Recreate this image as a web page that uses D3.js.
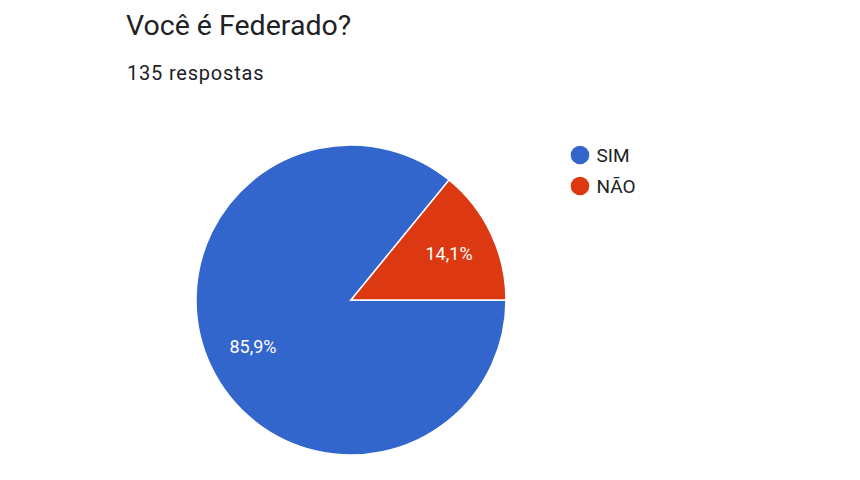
<!DOCTYPE html>
<html><head><meta charset="utf-8">
<script src="https://cdn.jsdelivr.net/npm/d3@7"></script>
<style>body{margin:0;background:#fff}svg{display:block}</style>
</head><body>
<svg id="c" width="860" height="480"></svg>
<script>
const title = "Você é Federado?";
const subtitle = "135 respostas";
const categories = ["SIM", "NÃO"];
const values = [85.9, 14.1];
const colors = ["#3366cc", "#dc3912"];

const svg = d3.select("#c");
const font = "Roboto, Arial, sans-serif";
svg.append("text").attr("x", 126).attr("y", 34.5).text(title)
  .attr("font-family", font).attr("font-size", 28.5).attr("fill", "#202124");
svg.append("text").attr("x", 127).attr("y", 79.5).text(subtitle)
  .attr("font-family", font).attr("font-size", 20).attr("fill", "#202124").attr("letter-spacing", 0.8);

const cx = 351, cy = 300, R = 155;
const data = categories.map((c, i) => ({c, v: values[i], col: colors[i]}));
const pie = d3.pie().value(d => d.v).sort(null).startAngle(Math.PI / 2).endAngle(Math.PI / 2 + 2 * Math.PI);
const arcs = pie(data);
const arc = d3.arc().innerRadius(0).outerRadius(R);
const labelArc = d3.arc().innerRadius(R * 0.7).outerRadius(R * 0.7);
const g = svg.append("g").attr("transform", `translate(${cx},${cy})`);
g.selectAll("path").data(arcs).join("path")
  .attr("d", arc).attr("fill", d => d.data.col)
  .attr("stroke", "#fff").attr("stroke-width", 1.5);
g.selectAll("text").data(arcs).join("text")
  .attr("transform", d => `translate(${labelArc.centroid(d)})`)
  .attr("text-anchor", "middle").attr("dy", "0.35em")
  .attr("font-family", font).attr("font-size", 18).attr("fill", "#fff")
  .text(d => d.data.v.toFixed(1).replace(".", ",") + "%");

const lg = svg.append("g").attr("transform", "translate(580,155)");
const items = lg.selectAll("g").data(data).join("g")
  .attr("transform", (d, i) => `translate(0,${i * 31})`);
items.append("circle").attr("r", 9.3).attr("fill", d => d.col);
items.append("text").attr("x", 16.5).attr("dy", "0.35em")
  .attr("font-family", font).attr("font-size", 19).attr("fill", "#222")
  .text(d => d.c);
</script>
</body></html>
